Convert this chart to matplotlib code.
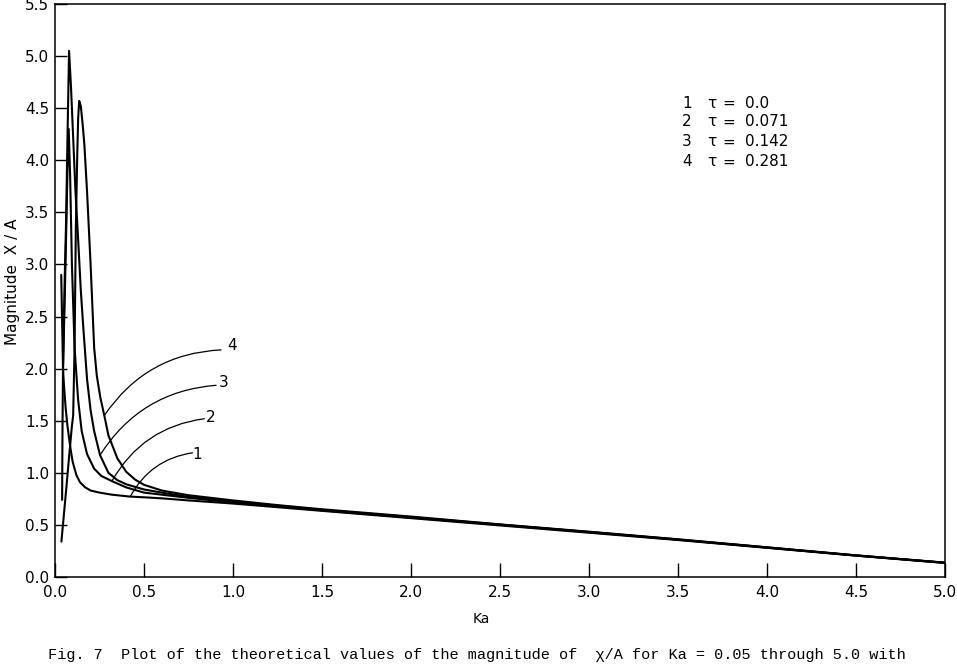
# libraries
import matplotlib
matplotlib.use('Agg')
import matplotlib.pyplot as plt
import numpy as np

# curve 1, tau = 0.0
ka_1 = [0.035, 0.04, 0.045, 0.05, 0.06, 0.07, 0.08, 0.09, 0.10, 0.12, 0.14, 0.17,
        0.20, 0.25, 0.32, 0.42, 0.50, 0.60, 0.75, 1.0, 1.25, 1.5, 2.0, 2.5, 3.0,
        3.5, 4.0, 4.5, 5.0]
mag_1 = [2.90, 2.45, 2.00, 1.85, 1.62, 1.45, 1.32, 1.20, 1.10, 0.98, 0.91, 0.86,
         0.83, 0.81, 0.79, 0.772, 0.765, 0.755, 0.735, 0.705, 0.67, 0.635, 0.565,
         0.495, 0.425, 0.355, 0.28, 0.205, 0.135]

# curve 2, tau = 0.071
ka_2 = [0.04, 0.042, 0.045, 0.055, 0.062, 0.07, 0.077, 0.085, 0.095, 0.11, 0.13,
        0.15, 0.18, 0.22, 0.26, 0.32, 0.40, 0.50, 0.60, 0.75, 1.0, 1.25, 1.5, 2.0,
        2.5, 3.0, 3.5, 4.0, 4.5, 5.0]
mag_2 = [0.74, 1.40, 2.00, 2.70, 3.24, 3.90, 4.30, 3.85, 3.00, 2.20, 1.70, 1.40,
         1.18, 1.04, 0.97, 0.92, 0.86, 0.81, 0.79, 0.76, 0.715, 0.678, 0.64, 0.57,
         0.50, 0.43, 0.358, 0.282, 0.206, 0.136]

# curve 3, tau = 0.142
ka_3 = [0.045, 0.055, 0.062, 0.07, 0.079, 0.09, 0.10, 0.115, 0.13, 0.145, 0.16,
        0.18, 0.20, 0.22, 0.253, 0.30, 0.35, 0.40, 0.50, 0.60, 0.75, 1.0, 1.25,
        1.5, 2.0, 2.5, 3.0, 3.5, 4.0, 4.5, 5.0]
mag_3 = [2.00, 2.90, 3.40, 4.20, 5.05, 4.70, 4.30, 3.70, 3.24, 2.75, 2.37, 1.90,
         1.60, 1.40, 1.17, 1.00, 0.93, 0.89, 0.84, 0.81, 0.77, 0.725, 0.685, 0.645,
         0.575, 0.503, 0.432, 0.36, 0.284, 0.207, 0.137]

# curve 4, tau = 0.281
ka_4 = [0.036, 0.05, 0.065, 0.08, 0.095, 0.102, 0.11, 0.117, 0.125, 0.13, 0.136,
        0.145, 0.155, 0.165, 0.18, 0.19, 0.20, 0.21, 0.22, 0.235, 0.255, 0.277,
        0.30, 0.35, 0.40, 0.45, 0.50, 0.60, 0.75, 1.0, 1.25, 1.5, 2.0, 2.5, 3.0,
        3.5, 4.0, 4.5, 5.0]
mag_4 = [0.34, 0.60, 0.88, 1.17, 1.45, 1.55, 2.20, 3.34, 4.05, 4.40, 4.57, 4.52,
         4.35, 4.15, 3.70, 3.35, 3.00, 2.60, 2.20, 1.93, 1.72, 1.55, 1.36, 1.14,
         1.01, 0.935, 0.885, 0.83, 0.785, 0.735, 0.69, 0.65, 0.58, 0.505, 0.435,
         0.362, 0.285, 0.208, 0.138]

curve_ids = ['1', '2', '3', '4']
tau_values = ['0.0', '0.071', '0.142', '0.281']

# leader lines: point on curve -> end near the number
leader_from = [(0.423, 0.772), (0.319, 0.918), (0.253, 1.17), (0.277, 1.55)]
leader_to = [(0.772, 1.192), (0.839, 1.519), (0.905, 1.84), (0.933, 2.18)]
label_at = [(0.80, 1.18), (0.876, 1.53), (0.945, 1.87), (0.995, 2.22)]

x_ticks = np.arange(0, 5.01, 0.5)
y_ticks = np.arange(0, 5.51, 0.5)

caption = ('Fig. 7  Plot of the theoretical values of the magnitude of  \u03c7/A '
           'for Ka = 0.05 through 5.0 with')


def px_x(px):
    return (px - 55) / 890.0


def px_y(py):
    return (577 - py) / 573.0


def plot_curves(ax):
    for ka, mag in [(ka_1, mag_1), (ka_2, mag_2), (ka_3, mag_3), (ka_4, mag_4)]:
        ax.plot(ka, mag, color='black', lw=1.5, solid_capstyle='round')

    for p0, p1 in zip(leader_from, leader_to):
        ax.annotate('', xy=p0, xytext=p1,
                    arrowprops=dict(arrowstyle='-', lw=0.9, color='black',
                                    shrinkA=0, shrinkB=0,
                                    connectionstyle='arc3,rad=0.25'))
    for cid, lab in zip(curve_ids, label_at):
        ax.text(lab[0], lab[1], cid, fontsize=11, ha='center', va='center')


def plot_key(ax):
    rows = [103, 122, 142, 162]
    for cid, tau, py in zip(curve_ids, tau_values, rows):
        y = px_y(py)
        kw = dict(transform=ax.transAxes, fontsize=11, va='center')
        ax.text(px_x(687), y, cid, ha='center', **kw)
        ax.text(px_x(712), y, '\u03c4', ha='center', **kw)
        ax.text(px_x(729), y, '=', ha='center', **kw)
        ax.text(px_x(745), y, tau, ha='left', **kw)


def main():
    plt.rcParams['font.family'] = ['DejaVu Sans']
    fig = plt.figure(figsize=(9.57, 6.67), dpi=100)
    ax = fig.add_axes([55 / 957, 1 - 577 / 667, 890 / 957, 573 / 667])

    plot_curves(ax)
    plot_key(ax)

    ax.set_xlim(0, 5)
    ax.set_ylim(0, 5.5)
    ax.set_xticks(x_ticks)
    ax.set_yticks(y_ticks)
    ax.set_xticklabels(['%.1f' % v for v in x_ticks])
    ax.set_yticklabels(['%.1f' % v for v in y_ticks])
    ax.tick_params(axis='x', direction='in', length=10, width=1.0, pad=6,
                   labelsize=11, top=False)
    ax.tick_params(axis='y', direction='in', length=8.5, width=1.0, pad=4,
                   labelsize=11, right=False)
    for s in ax.spines.values():
        s.set_linewidth(1.1)

    ax.set_xlabel('Ka', fontsize=10)
    ax.xaxis.set_label_coords(px_x(481), px_y(612))
    ax.set_ylabel('Magnitude  X / A', fontsize=11, va='center')
    ax.yaxis.set_label_coords(px_x(13), px_y(282))

    fig.text(48 / 957, 1 - 655 / 667, caption, family='Liberation Mono',
             fontsize=11, ha='left', va='center')

    fig.savefig('out.png', dpi=100)
    print("Done")


if __name__ == "__main__":
    main()
